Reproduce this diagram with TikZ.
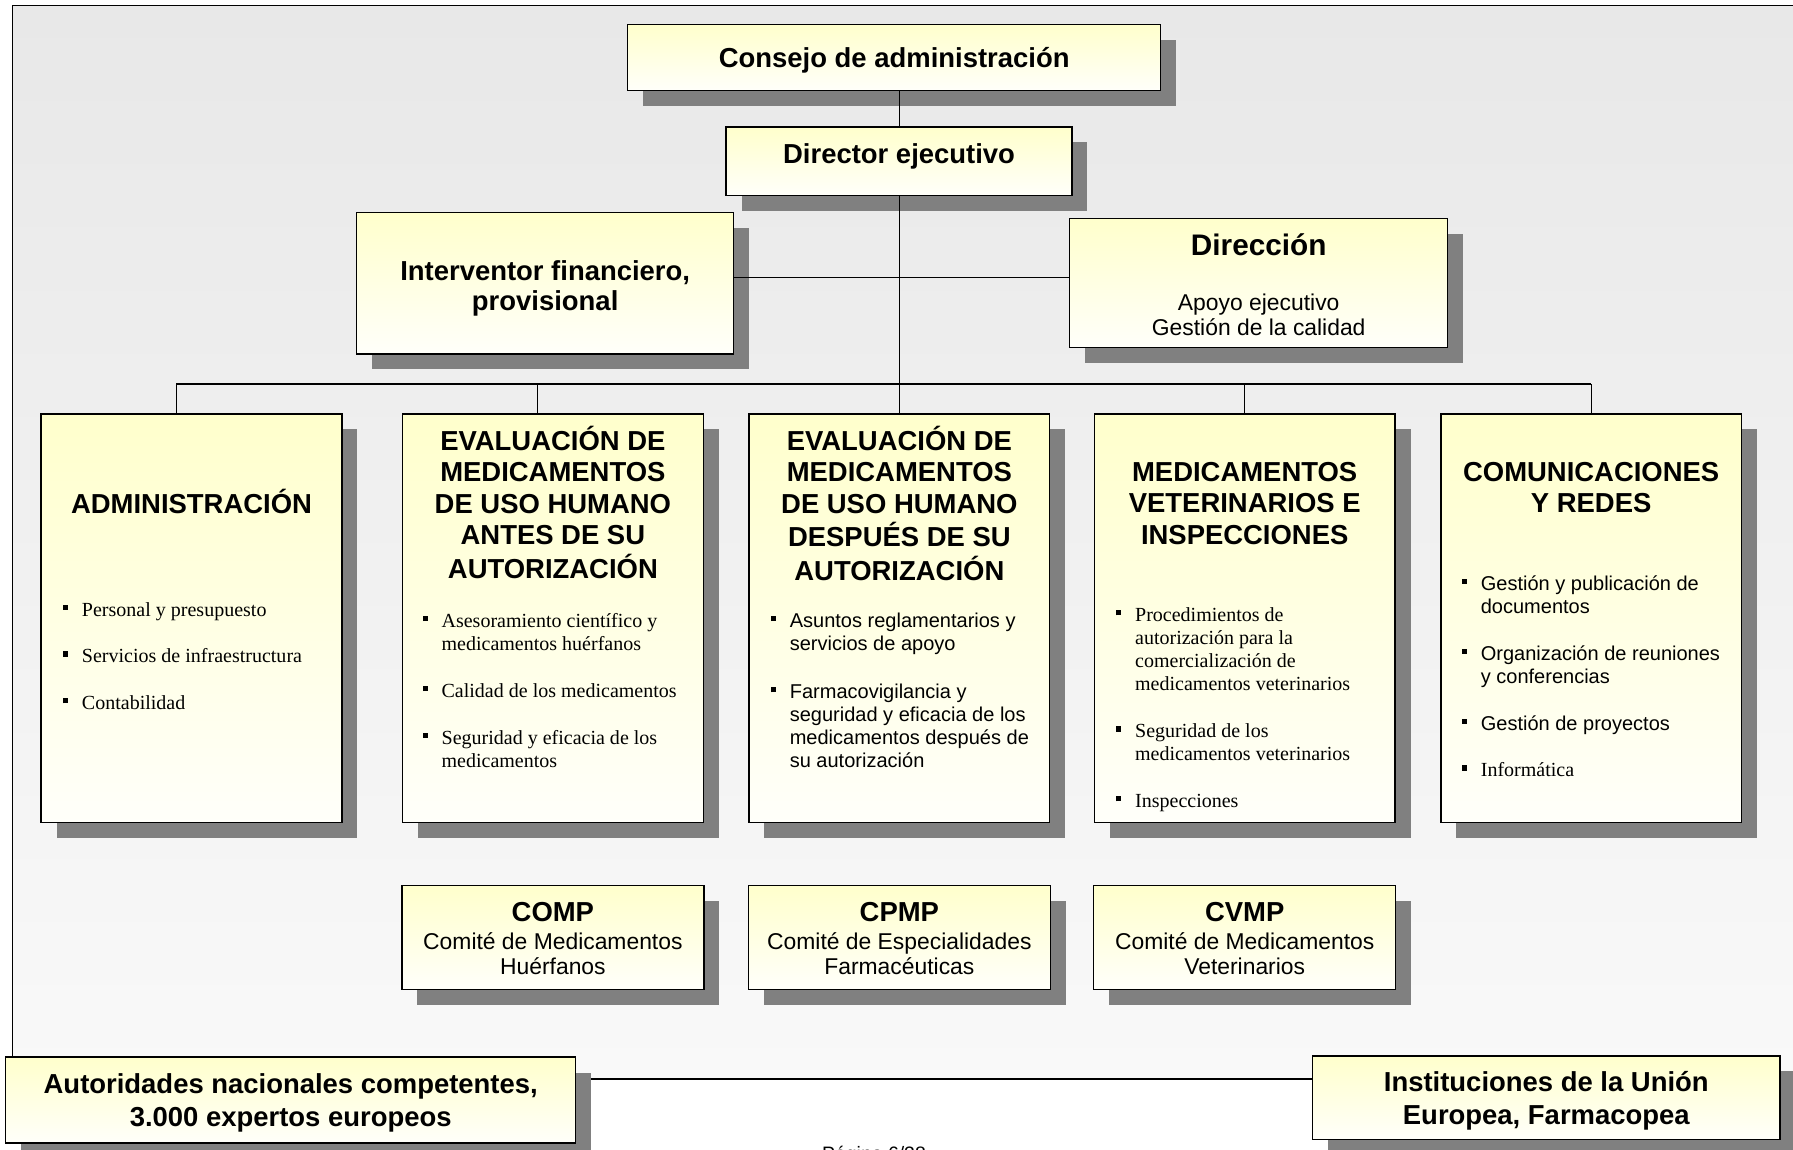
\documentclass[tikz,border=0pt]{standalone}
\usepackage{fontspec}
\setmainfont{Liberation Sans}
\newfontfamily\tnr{Liberation Serif}
\usepackage{tikz}
\usetikzlibrary{positioning,calc,shadows}
\definecolor{boxtop}{RGB}{255,255,204}
\definecolor{boxbot}{RGB}{255,255,250}
\definecolor{shadowgray}{RGB}{128,128,128}
\definecolor{bgtop}{RGB}{232,232,232}
\definecolor{bgbot}{RGB}{249,249,249}
\newcommand{\stk}[2][c]{\begin{tabular}[t]{@{}#1@{}}#2\end{tabular}}
\newcommand{\sq}{\makebox[16.5pt][l]{\rule[5.5pt]{4.5pt}{4.5pt}}}
\newcommand{\ind}{\hspace*{16.5pt}}

\begin{document}
\begin{tikzpicture}[
    x=1pt, y=-1pt,
    box/.style={draw, line width=1.2pt, outer sep=0pt, inner sep=0pt, top color=boxtop, bottom color=boxbot,
        drop shadow={shadow xshift=13.5pt, shadow yshift=-13.5pt, fill=shadowgray, opacity=1}},
    col/.style={box, minimum width=263pt, minimum height=357.4pt},
    cmt/.style={box, minimum width=264pt, minimum height=90.7pt},
    ttl/.style={inner sep=0pt, anchor=base, font=\fontsize{24}{27.4}\selectfont\bfseries},
    sub/.style={inner sep=0pt, anchor=base, font=\fontsize{20}{22}\selectfont},
    lst/.style={inner sep=0pt, anchor=base west, font=\fontsize{17.5}{20.2}\selectfont},
    lstr/.style={lst, font=\tnr\fontsize{17.5}{20.2}\selectfont},
    conn/.style={line width=1pt},
]
    % Page and frame
    \useasboundingbox (0,0) rectangle (1568,1005);
    \fill[white] (0,0) rectangle (1568,1005);
    \coordinate (frame-nw) at (11,5);
    \coordinate (frame-se) at (1600,943.6);
    \shade[top color=bgtop, bottom color=bgbot] (frame-nw) rectangle (frame-se);
    \draw[line width=1.3pt] (frame-nw) rectangle (frame-se);

    % Management
    \node[box, minimum width=466pt, minimum height=58pt, anchor=north west] (consejo) at (549,21.3) {};
    \node[ttl] (consejo-t) at ($(consejo.north)+(0,38)$) {Consejo de administración};
    \node[box, minimum width=302.5pt, minimum height=60pt, anchor=north west] (director) at (635,111) {};
    \node[ttl] (director-t) at ($(director.north)+(0,31.8)$) {Director ejecutivo};
    \node[box, minimum width=329.5pt, minimum height=123.5pt, anchor=north west] (interv) at (312,186) {};
    \node[ttl, font=\fontsize{24}{26.5}\selectfont\bfseries] (interv-t) at ($(interv.north)+(0,59)$) {\stk{Interventor financiero,\\provisional}};
    \node[box, minimum width=330.5pt, minimum height=112.7pt, anchor=north west] (direc) at (935.5,191) {};
    \node[ttl, font=\fontsize{26}{28}\selectfont\bfseries] (direc-t) at ($(direc.north)+(0,32.4)$) {Dirección};
    \node[sub] (direc-s) at ($(direc.north)+(0,80.5)$) {\stk{Apoyo ejecutivo\\Gestión de la calidad}};

    % Units
    \node[col, anchor=north west] (admin) at (36,362) {};
    \node[col, right=53pt of admin] (antes) {};
    \node[col, right=40pt of antes] (despues) {};
    \node[col, right=39pt of despues] (vet) {};
    \node[col, right=40pt of vet] (comm) {};

    \node[ttl] (admin-t) at ($(admin.north)+(0,87)$) {ADMINISTRACIÓN};
    \node[ttl] (antes-t) at ($(antes.north)+(0,32)$) {\stk{EVALUACIÓN DE\\MEDICAMENTOS\\DE USO HUMANO\\ANTES DE SU\\AUTORIZACIÓN}};
    \node[ttl] (despues-t) at ($(despues.north)+(0,32)$) {\stk{EVALUACIÓN DE\\MEDICAMENTOS\\DE USO HUMANO\\DESPUÉS DE SU\\AUTORIZACIÓN}};
    \node[ttl] (vet-t) at ($(vet.north)+(0,59.2)$) {\stk{MEDICAMENTOS\\VETERINARIOS E\\INSPECCIONES}};
    \node[ttl] (comm-t) at ($(comm.north)+(0,59)$) {\stk{COMUNICACIONES\\Y REDES}};

    \node[lstr] (admin-l) at ($(admin.north west)+(19,176.7)$) {\stk[l]{\sq Personal y presupuesto\\[20.8pt]
        \sq Servicios de infraestructura\\[20.8pt] \sq Contabilidad}};
    \node[lstr] (antes-l) at ($(antes.north west)+(17.5,186.6)$) {\stk[l]{\sq Asesoramiento científico y\\ \ind medicamentos huérfanos\\[20.8pt]
        \sq Calidad de los medicamentos\\[20.8pt] \sq Seguridad y eficacia de los\\ \ind medicamentos}};
    \node[lst] (despues-l) at ($(despues.north west)+(19,186.6)$) {\stk[l]{\sq Asuntos reglamentarios y\\ \ind servicios de apoyo\\[22pt]
        \sq Farmacovigilancia y\\ \ind seguridad y eficacia de los\\ \ind medicamentos después de\\ \ind su autorización}};
    \node[lstr] (vet-l) at ($(vet.north west)+(19,181.6)$) {\stk[l]{\sq Procedimientos de\\ \ind autorización para la\\ \ind comercialización de\\ \ind medicamentos veterinarios\\[20.8pt]
        \sq Seguridad de los\\ \ind medicamentos veterinarios\\[20.8pt] \sq Inspecciones}};
    \node[lst] (comm-l) at ($(comm.north west)+(18.3,154)$) {\stk[l]{\sq Gestión y publicación de\\ \ind documentos\\[20.8pt]
        \sq Organización de reuniones\\ \ind y conferencias\\[20.8pt] \sq Gestión de proyectos\\[20.8pt] \sq{\tnr Informática}}};

    % Committees
    \node[cmt, below=55pt of antes] (comp) {};
    \node[cmt, below=55pt of despues] (cpmp) {};
    \node[cmt, below=55pt of vet] (cvmp) {};
    \node[sub] (comp-t) at ($(comp.north)+(0,31.5)$) {\stk{{\fontsize{24}{26}\selectfont\bfseries COMP}\\[2pt] Comité de Medicamentos\\Huérfanos}};
    \node[sub] (cpmp-t) at ($(cpmp.north)+(0,31.5)$) {\stk{{\fontsize{24}{26}\selectfont\bfseries CPMP}\\[2pt] Comité de Especialidades\\Farmacéuticas}};
    \node[sub] (cvmp-t) at ($(cvmp.north)+(0,31.5)$) {\stk{{\fontsize{24}{26}\selectfont\bfseries CVMP}\\[2pt] Comité de Medicamentos\\Veterinarios}};

    % Partners
    \node[box, minimum width=498.5pt, minimum height=75pt, anchor=north west] (autor) at (5,924.5) {};
    \node[ttl, font=\fontsize{24}{28.6}\selectfont\bfseries] (autor-t) at ($(autor.north)+(0,31.6)$) {\stk{Autoridades nacionales competentes,\\3.000 expertos europeos}};
    \node[box, minimum width=408.5pt, minimum height=73pt, anchor=north west] (instit) at (1148,923.5) {};
    \node[ttl, font=\fontsize{24}{28.3}\selectfont\bfseries] (instit-t) at ($(instit.north)+(0,31.2)$) {\stk{Instituciones de la Unión\\Europea, Farmacopea}};
    \node[inner sep=0pt, anchor=base, font=\fontsize{17}{20}\selectfont] (pagina) at (764.3,1015) {Página 6/38};

    % Lines
    \coordinate (bus) at (786,335.8);
    \coordinate (mid) at (786,242.8);
    \draw[conn] (consejo.south -| director.north) -- (director.north);
    \draw[conn] (director.south) -- (director.south |- bus);
    \draw[conn] (interv.east |- mid) -- (direc.west |- mid);
    \foreach \c/\dx in {admin/-13.5, antes/-13.5, despues/0, vet/0, comm/0}
        \draw[conn] ($(\c.north)+(\dx,0)$) coordinate (d-\c) -- (d-\c |- bus);
    \draw[conn] (d-admin |- bus) -- (d-comm |- bus);
\end{tikzpicture}
\end{document}
